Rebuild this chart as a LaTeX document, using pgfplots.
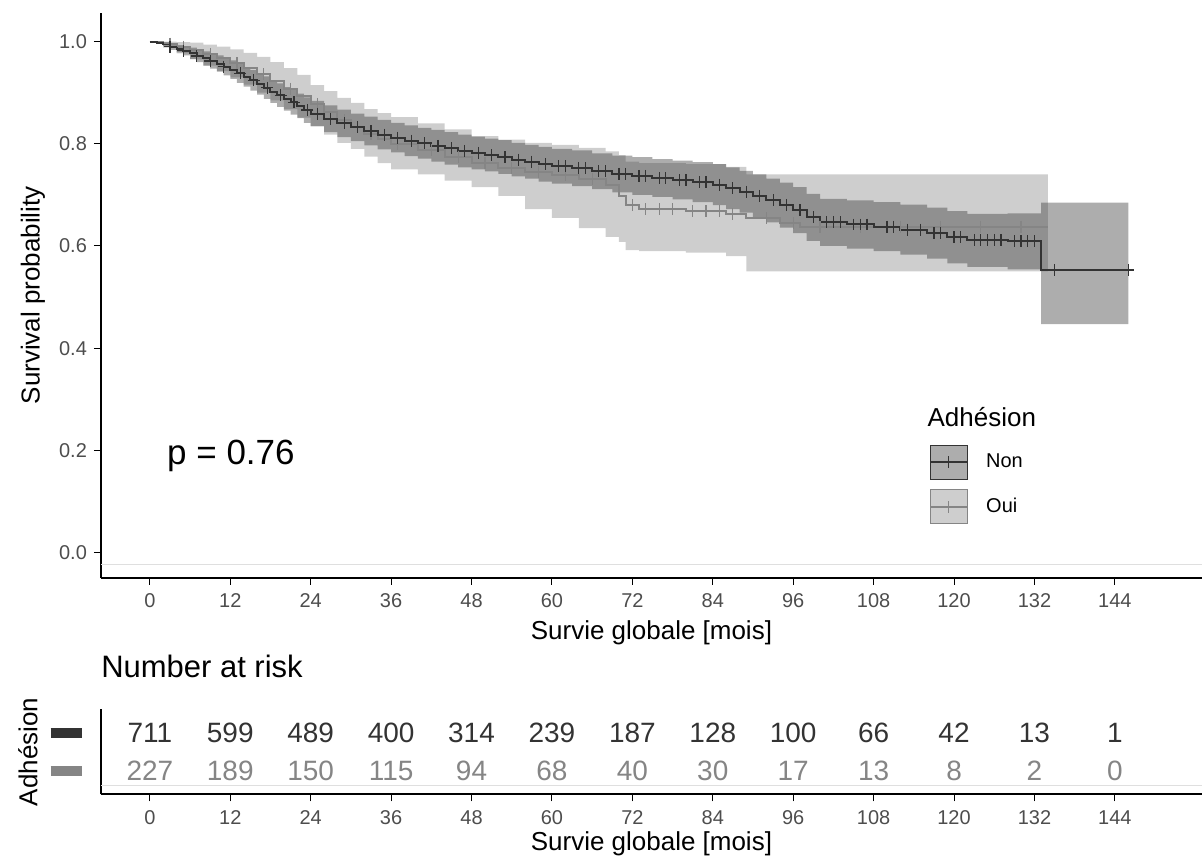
\documentclass[border=0pt]{standalone}
\usepackage{fontspec}
\setmainfont{Liberation Sans}
\usepackage{pgfplots}
\usepackage{pgfplotstable}
\pgfplotsset{compat=1.18}
\usepgfplotslibrary{fillbetween}
\definecolor{nonc}{HTML}{333333}
\definecolor{ouic}{HTML}{858585}
\definecolor{tickc}{HTML}{4D4D4D}

\pgfplotstableread{
t s lo hi
0 1.000 1.000 1.000
1 0.998 0.996 1.000
2 0.995 0.991 0.999
3 0.990 0.984 0.996
4 0.986 0.979 0.993
5 0.982 0.973 0.991
6 0.977 0.966 0.988
7 0.972 0.960 0.984
8 0.967 0.953 0.981
9 0.962 0.947 0.977
10 0.957 0.941 0.973
11 0.951 0.934 0.968
12 0.945 0.927 0.963
13 0.938 0.919 0.957
14 0.931 0.912 0.950
15 0.924 0.904 0.944
16 0.917 0.896 0.938
17 0.910 0.888 0.932
18 0.902 0.880 0.924
19 0.895 0.872 0.918
20 0.888 0.865 0.911
21 0.881 0.857 0.905
22 0.874 0.850 0.898
23 0.866 0.841 0.891
24 0.859 0.834 0.884
26 0.849 0.823 0.875
28 0.840 0.813 0.867
30 0.832 0.805 0.859
32 0.825 0.797 0.853
34 0.818 0.789 0.847
36 0.812 0.783 0.841
38 0.806 0.776 0.836
40 0.801 0.771 0.831
42 0.796 0.765 0.827
44 0.791 0.759 0.823
46 0.786 0.754 0.818
48 0.782 0.750 0.814
50 0.778 0.746 0.810
52 0.774 0.741 0.807
54 0.769 0.736 0.802
56 0.765 0.732 0.798
58 0.760 0.726 0.794
60 0.756 0.722 0.790
63 0.752 0.717 0.787
66 0.746 0.711 0.781
69 0.741 0.705 0.777
72 0.737 0.700 0.774
75 0.733 0.696 0.770
78 0.729 0.691 0.767
81 0.725 0.686 0.764
84 0.720 0.680 0.760
86 0.713 0.672 0.754
88 0.706 0.665 0.747
90 0.698 0.656 0.740
92 0.689 0.646 0.732
94 0.680 0.636 0.724
96 0.670 0.625 0.715
98 0.656 0.610 0.702
100 0.646 0.600 0.692
104 0.642 0.595 0.689
108 0.638 0.590 0.686
112 0.632 0.583 0.681
116 0.625 0.575 0.675
119 0.617 0.566 0.668
122 0.611 0.559 0.663
128 0.609 0.554 0.664
133 0.553 0.447 0.685
146 0.553 0.447 0.685
}\nontab

\pgfplotstableread{
t s lo hi
0 1.000 1.000 1.000
2 0.996 0.988 1.000
4 0.990 0.977 0.999
6 0.984 0.965 0.998
8 0.976 0.953 0.994
10 0.968 0.942 0.990
12 0.958 0.930 0.985
14 0.948 0.916 0.978
16 0.936 0.900 0.970
18 0.922 0.885 0.960
20 0.908 0.868 0.948
22 0.893 0.851 0.935
24 0.878 0.835 0.915
26 0.862 0.818 0.903
28 0.846 0.802 0.890
30 0.832 0.790 0.880
32 0.820 0.775 0.868
34 0.810 0.762 0.860
36 0.800 0.750 0.852
40 0.787 0.740 0.840
44 0.775 0.728 0.828
48 0.763 0.715 0.815
52 0.753 0.698 0.808
56 0.745 0.672 0.802
60 0.738 0.655 0.798
64 0.731 0.635 0.792
68 0.720 0.618 0.785
70 0.698 0.608 0.778
71 0.680 0.592 0.765
73 0.672 0.590 0.762
80 0.668 0.587 0.760
86 0.663 0.580 0.755
89 0.655 0.550 0.740
94 0.645 0.550 0.740
97 0.638 0.550 0.740
134 0.638 0.550 0.740
}\ouitab

\pgfplotstableread{
t s
3 0.990
5 0.982
7 0.972
9 0.962
11 0.951
13.5 0.938
15.5 0.924
17.5 0.910
19.5 0.895
21.5 0.881
23.5 0.866
25 0.859
27 0.849
29 0.840
31 0.832
33 0.825
35 0.818
37 0.812
39 0.806
41 0.801
43 0.796
45 0.791
47 0.786
49 0.782
51 0.778
53 0.774
55 0.769
57 0.765
59 0.760
61 0.756
62 0.756
64 0.752
65 0.752
67 0.746
68 0.746
70 0.741
71 0.741
73 0.737
74 0.737
76 0.733
77 0.733
79 0.729
80 0.729
82 0.725
83 0.725
85 0.720
87 0.713
89 0.706
91 0.698
93 0.689
95 0.680
97 0.670
99 0.656
101 0.646
102 0.646
103 0.646
105 0.642
106 0.642
107 0.642
110 0.638
111 0.638
113 0.632
115 0.632
117 0.625
118 0.625
120 0.617
121 0.617
123 0.611
124 0.611
125 0.611
126 0.611
127 0.611
129 0.609
130 0.609
131 0.609
132 0.609
135 0.553
146 0.553
}\noncens

\pgfplotstableread{
t s
3 0.996
5 0.990
9 0.976
13 0.958
17 0.936
21 0.908
25 0.878
29 0.846
33 0.820
37 0.800
42 0.787
46 0.775
50 0.763
54 0.753
58 0.745
62 0.738
66 0.731
72 0.680
74 0.672
76 0.672
78 0.672
81 0.668
83 0.668
85 0.668
87 0.663
92 0.655
96 0.645
100 0.638
106 0.638
112 0.638
118 0.638
124 0.638
130 0.638
}\ouicens

\pgfplotstableread{
t y n
0 2 711
12 2 599
24 2 489
36 2 400
48 2 314
60 2 239
72 2 187
84 2 128
96 2 100
108 2 66
120 2 42
132 2 13
144 2 1
}\nonrisk

\pgfplotstableread{
t y n
0 1 227
12 1 189
24 1 150
36 1 115
48 1 94
60 1 68
72 1 40
84 1 30
96 1 17
108 1 13
120 1 8
132 1 2
144 1 0
}\ouirisk

\begin{document}
\begin{tikzpicture}
\begin{axis}[
  at={(50.5pt,143pt)}, anchor=south west,
  width=551pt, height=282.5pt, scale only axis,
  xmin=-7.3, xmax=157, ymin=-0.049, ymax=1.056,
  axis lines=left, axis line style={-, line width=1pt, black},
  xtick={0,12,24,36,48,60,72,84,96,108,120,132,144},
  ytick={0,0.2,0.4,0.6,0.8,1},
  tick align=outside, major tick length=3.5pt,
  tick style={black, line width=0.5pt},
  ticklabel style={font=\fontsize{10}{11}\selectfont, text=tickc},
  xticklabel style={yshift=-1pt},
  yticklabel style={/pgf/number format/.cd, fixed, fixed zerofill, precision=1},
  /pgf/number format/assume math mode=true,
  xlabel={Survie globale [mois]}, ylabel={Survival probability},
  label style={font=\fontsize{13}{15}\selectfont},
  xlabel style={at={(axis description cs:0.5,-0.097)}, anchor=center},
  ylabel style={at={(axis description cs:-0.0617,0.5)}, anchor=center},
  legend style={at={(axis cs:116.3,0.211)}, anchor=north west, draw=none, fill=none,
    inner sep=0pt, outer sep=0pt, row sep=5pt, column sep=9pt,
    nodes={inner sep=0pt}, font=\fontsize{10}{12}\selectfont},
  legend cell align=left,
]
\addplot[draw=gray!25, line width=0.5pt, forget plot] coordinates {(-7.3,-0.024) (157,-0.024)};
% Oui band
\addplot[draw=none, const plot, name path=ouihi, forget plot] table[x=t,y=hi]{\ouitab};
\addplot[draw=none, const plot, name path=ouilo, forget plot] table[x=t,y=lo]{\ouitab};
\addplot[fill=ouic, fill opacity=0.4, draw=none, forget plot] fill between[of=ouihi and ouilo];
% Non band
\addplot[draw=none, const plot, name path=nonhi, forget plot] table[x=t,y=hi]{\nontab};
\addplot[draw=none, const plot, name path=nonlo, forget plot] table[x=t,y=lo]{\nontab};
\addplot[fill=nonc, fill opacity=0.4, draw=none, forget plot] fill between[of=nonhi and nonlo];
% curves
\addplot[const plot, ouic, line width=1pt, forget plot] table[x=t,y=s]{\ouitab};
\addplot[const plot, nonc, line width=1pt, forget plot] table[x=t,y=s]{\nontab};
\addplot[only marks, mark=+, mark size=3pt, ouic, line width=0.6pt, forget plot] table[x=t,y=s]{\ouicens};
\addplot[only marks, mark=+, mark size=3pt, nonc, line width=0.6pt, forget plot] table[x=t,y=s]{\noncens};
% legend
\addlegendimage{legend image code/.code={
  \fill[nonc, fill opacity=0.4] (0pt,-8.5pt) rectangle (18.5pt,8.5pt);
  \draw[nonc, line width=1pt] (0pt,0pt) -- (18.5pt,0pt);
  \draw[nonc, line width=0.6pt] (9.25pt,-3pt) -- (9.25pt,3pt) (6.25pt,0pt) -- (12.25pt,0pt);}}
\addlegendentry{Non}
\addlegendimage{legend image code/.code={
  \fill[ouic, fill opacity=0.4] (0pt,-8.5pt) rectangle (18.5pt,8.5pt);
  \draw[ouic, line width=1pt] (0pt,0pt) -- (18.5pt,0pt);
  \draw[ouic, line width=0.6pt] (9.25pt,-3pt) -- (9.25pt,3pt) (6.25pt,0pt) -- (12.25pt,0pt);}}
\addlegendentry{Oui}
\node[anchor=base west, inner sep=0pt, font=\fontsize{13}{15}\selectfont] at (axis cs:116,0.246) {Adhésion};
\node[anchor=base, inner sep=0pt, font=\fontsize{17.5}{20}\selectfont] at (axis cs:12.1,0.172) {p = 0.76};
\end{axis}

\begin{axis}[
  at={(50.5pt,34.5pt)}, anchor=south west,
  width=551pt, height=42.5pt, scale only axis,
  xmin=-7.3, xmax=157, ymin=0.4, ymax=2.6,
  axis lines=left, axis line style={-, line width=1pt, black},
  xtick={0,12,24,36,48,60,72,84,96,108,120,132,144},
  ytick={1,2},
  yticklabels={\textcolor{ouic}{\rule{15.5pt}{5pt}}, \textcolor{nonc}{\rule{15.5pt}{5pt}}},
  tick align=outside, major tick length=3.5pt,
  x tick style={black, line width=0.5pt},
  y tick style={draw=none},
  xticklabel style={font=\fontsize{10}{11}\selectfont, text=tickc, yshift=-1pt},
  yticklabel style={anchor=east, inner sep=0pt, xshift=-6pt},
  /pgf/number format/assume math mode=true,
  title={Number at risk},
  title style={at={(axis description cs:0,1.235)}, anchor=base west, inner sep=0pt, font=\fontsize{15.5}{17}\selectfont},
  xlabel={Survie globale [mois]}, ylabel={Adhésion},
  label style={font=\fontsize{13}{15}\selectfont},
  xlabel style={at={(axis description cs:0.5,-0.58)}, anchor=center},
  ylabel style={at={(axis description cs:-0.0662,0.5)}, anchor=center},
]
\addplot[draw=gray!25, line width=0.5pt, forget plot] coordinates {(-7.3,0.62) (157,0.62)};
\addplot[draw=none, nodes near coords, point meta=explicit symbolic,
  every node near coord/.append style={anchor=center, text=nonc, font=\fontsize{14}{16}\selectfont, inner sep=0pt}]
  table[x=t, y=y, meta=n]{\nonrisk};
\addplot[draw=none, nodes near coords, point meta=explicit symbolic,
  every node near coord/.append style={anchor=center, text=ouic, font=\fontsize{14}{16}\selectfont, inner sep=0pt}]
  table[x=t, y=y, meta=n]{\ouirisk};
\end{axis}
\path (0pt,0pt) rectangle (601.5pt,432pt);
\end{tikzpicture}
\end{document}
